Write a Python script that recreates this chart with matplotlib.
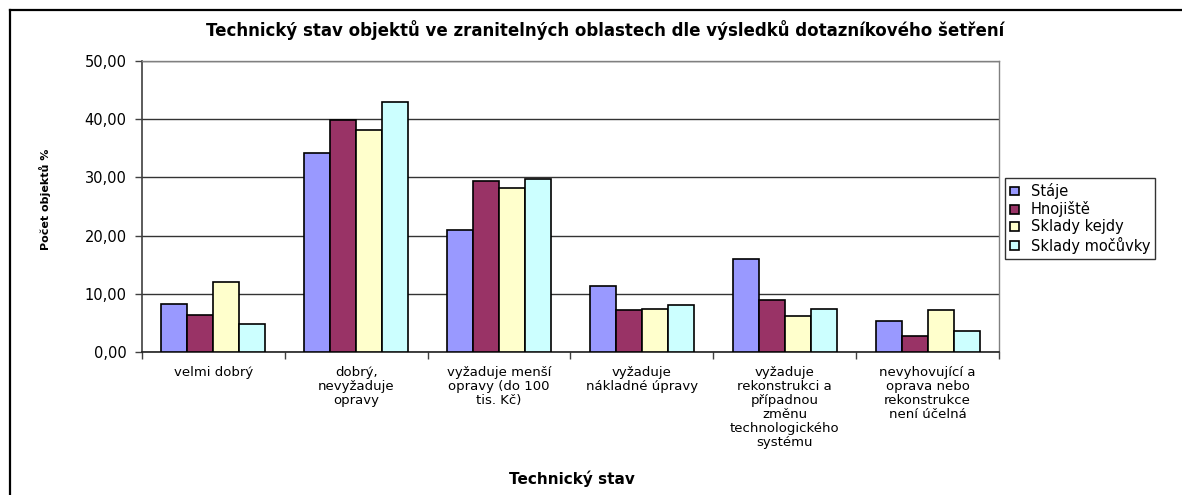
import matplotlib
matplotlib.use("Agg")
import matplotlib.pyplot as plt
import numpy as np
from matplotlib.lines import Line2D
from matplotlib.ticker import FixedLocator, FuncFormatter

plt.rcParams['font.family'] = ['DejaVu Sans']

categories = [
    "velmi dobrý",
    "dobrý,\nnevyžaduje\nopravy",
    "vyžaduje menší\nopravy (do 100\ntis. Kč)",
    "vyžaduje\nnákladné úpravy",
    "vyžaduje\nrekonstrukci a\npřípadnou\nzměnu\ntechnologického\nsystému",
    "nevyhovující a\noprava nebo\nrekonstrukce\nnení účelná",
]
series_names = ["Stáje", "Hnojiště", "Sklady kejdy", "Sklady močůvky"]
staje = [8.3, 34.2, 21.0, 11.4, 15.9, 5.3]
hnojiste = [6.3, 39.9, 29.4, 7.2, 8.9, 2.8]
kejdy = [12.1, 38.2, 28.1, 7.4, 6.2, 7.3]
mocuvky = [4.8, 42.9, 29.8, 8.0, 7.4, 3.6]
colors = ["#9999FF", "#993366", "#FFFFCC", "#CCFFFF"]
y_ticks = [0, 10, 20, 30, 40, 50]

W, H = 1182, 495
fig = plt.figure(figsize=(W / 100, H / 100), dpi=100)
ax = fig.add_axes([142 / W, 1 - 352 / H, (999 - 142) / W, (352 - 61) / H])

x = np.arange(len(categories))
bw = 0.182
for j, (vals, name, c) in enumerate(zip([staje, hnojiste, kejdy, mocuvky], series_names, colors)):
    ax.bar(x + (j - 1.5) * bw, vals, width=bw, color=c, edgecolor="black",
           linewidth=1.2, label=name, zorder=3)

ax.set_xlim(-0.5, len(categories) - 0.5)
ax.set_ylim(0, 50)
ax.yaxis.set_major_locator(FixedLocator(y_ticks))
ax.yaxis.set_major_formatter(FuncFormatter(lambda v, p: f"{v:.2f}".replace(".", ",")))
ax.yaxis.grid(True, color="#333333", linewidth=1.0, zorder=0)
ax.tick_params(axis="y", direction="out", length=5, width=1, color="#404040",
               labelsize=10.5, pad=6, labelcolor="black")

ax.set_xticks(x)
ax.set_xticklabels(categories, fontsize=9.5, linespacing=1.1, va="top")
ax.tick_params(axis="x", which="major", length=0, pad=10)
ax.set_xticks(np.arange(-0.5, len(categories), 1.0), minor=True)
ax.tick_params(axis="x", which="minor", direction="out", length=5, width=1, color="#404040")

for s in ["top", "right"]:
    ax.spines[s].set_color("#808080")
    ax.spines[s].set_linewidth(1.0)
ax.spines["left"].set_color("#404040")
ax.spines["bottom"].set_color("#202020")
ax.spines["left"].set_linewidth(1.2)
ax.spines["bottom"].set_linewidth(1.2)

fig.text(605 / W, 1 - 30 / H, "Technický stav objektů ve zranitelných oblastech dle výsledků dotazníkového šetření",
         ha="center", va="center", fontsize=12, fontweight="bold")
fig.text(572 / W, 1 - 479 / H, "Technický stav", ha="center", va="center",
         fontsize=11, fontweight="bold")
fig.text(45 / W, 1 - 199 / H, "Počet objektů %", ha="center", va="center",
         fontsize=8, fontweight="bold", rotation=90)

leg = fig.legend(loc="upper left", bbox_to_anchor=(1005 / W, 1 - 178 / H),
                 fontsize=10.5, frameon=True, fancybox=False, shadow=False,
                 handlelength=0.6, handleheight=0.55, handletextpad=0.8,
                 labelspacing=0.15, borderpad=0.35, borderaxespad=0)
leg.get_frame().set_edgecolor("black")
leg.get_frame().set_linewidth(1.0)

fig.add_artist(Line2D([10 / W, 1.0], [1 - 10 / H, 1 - 10 / H], color="black", linewidth=1.6,
                      transform=fig.transFigure))
fig.add_artist(Line2D([10 / W, 10 / W], [1 - 10 / H, 0], color="black", linewidth=1.6,
                      transform=fig.transFigure))

fig.savefig("out.png", dpi=100)
